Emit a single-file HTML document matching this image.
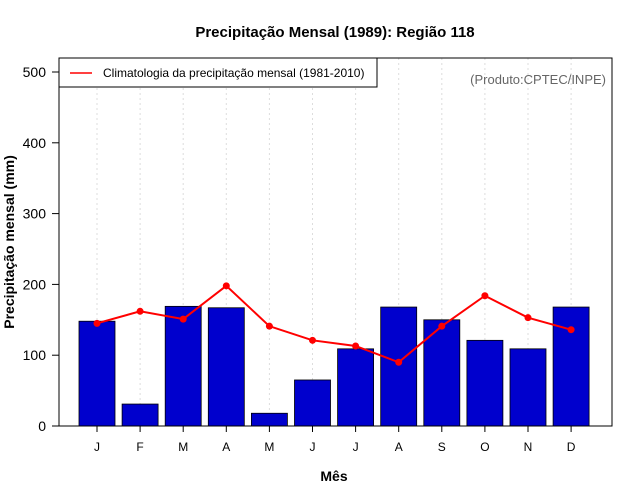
<!DOCTYPE html>
<html><head><meta charset="utf-8"><style>
body{margin:0;background:#fff;}
svg{display:block;font-family:"Liberation Sans",sans-serif;}
</style></head><body>
<svg id="chart" width="640" height="500">
<text x="335" y="37" text-anchor="middle" font-size="15" font-weight="bold">Precipitação Mensal (1989): Região 118</text>
<text x="334" y="481" text-anchor="middle" font-size="14" font-weight="bold">Mês</text>
<text transform="translate(14,242) rotate(-90)" text-anchor="middle" font-size="14" font-weight="bold">Precipitação mensal (mm)</text>
<g id="grid"></g><g id="bars"></g><g id="line"></g><g id="axes"></g>
<rect x="59" y="58" width="553" height="368" fill="none" stroke="#000"/>
<g>
<rect x="59" y="58" width="318" height="29" fill="#fff" stroke="#000"/>
<line x1="70" y1="73" x2="92" y2="73" stroke="#f00" stroke-width="1.5"/>
<text x="103" y="77" font-size="12">Climatologia da precipitação mensal (1981-2010)</text>
</g>
<text x="606" y="84" text-anchor="end" font-size="13" fill="#666">(Produto:CPTEC/INPE)</text>
</svg>
<script>
const months=["J","F","M","A","M","J","J","A","S","O","N","D"];
const monthly=[148,31,169,167,18,65,109,168,150,121,109,168];
const climatology=[145,162,151,198,141,121,113,90,141,184,153,136];
const yTicks=[0,100,200,300,400,500];
const NS="http://www.w3.org/2000/svg";
const x=i=>97+i*43.1;
const y=v=>426-v*0.708;
function mk(t,a,p){const e=document.createElementNS(NS,t);for(const k in a)e.setAttribute(k,a[k]);p.appendChild(e);return e;}
const g=document.getElementById('grid'),b=document.getElementById('bars'),l=document.getElementById('line'),ax=document.getElementById('axes');
months.forEach((m,i)=>{
 const gl=mk('line',{x1:x(i),x2:x(i),y1:58,y2:426,stroke:'#ddd','stroke-dasharray':'2,3'},g);
 
 
 const r=mk('rect',{x:x(i)-18,y:y(monthly[i]),width:36,height:426-y(monthly[i]),fill:'#0000cd',stroke:'#000','stroke-width':0.8},b);
 
 
 const tl=mk('line',{x1:x(i),x2:x(i),y1:426,y2:432,stroke:'#000'},ax);
 
 
 const t=mk('text',{x:x(i),y:451,'text-anchor':'middle','font-size':12},ax);t.textContent=m;
 
 
});
const pl=mk('polyline',{points:climatology.map((v,i)=>x(i)+','+y(v)).join(' '),fill:'none',stroke:'#f00','stroke-width':2},l);


climatology.forEach((v,i)=>{const c=mk('circle',{cx:x(i),cy:y(v),r:3.5,fill:'#f00'},l);
 
 });
yTicks.forEach(v=>{
 const tl=mk('line',{x1:52,x2:59,y1:y(v),y2:y(v),stroke:'#000'},ax);
 
 
 const t=mk('text',{x:46,y:y(v)+5,'text-anchor':'end','font-size':14},ax);t.textContent=v;
 
 
});
</script>
</body></html>
